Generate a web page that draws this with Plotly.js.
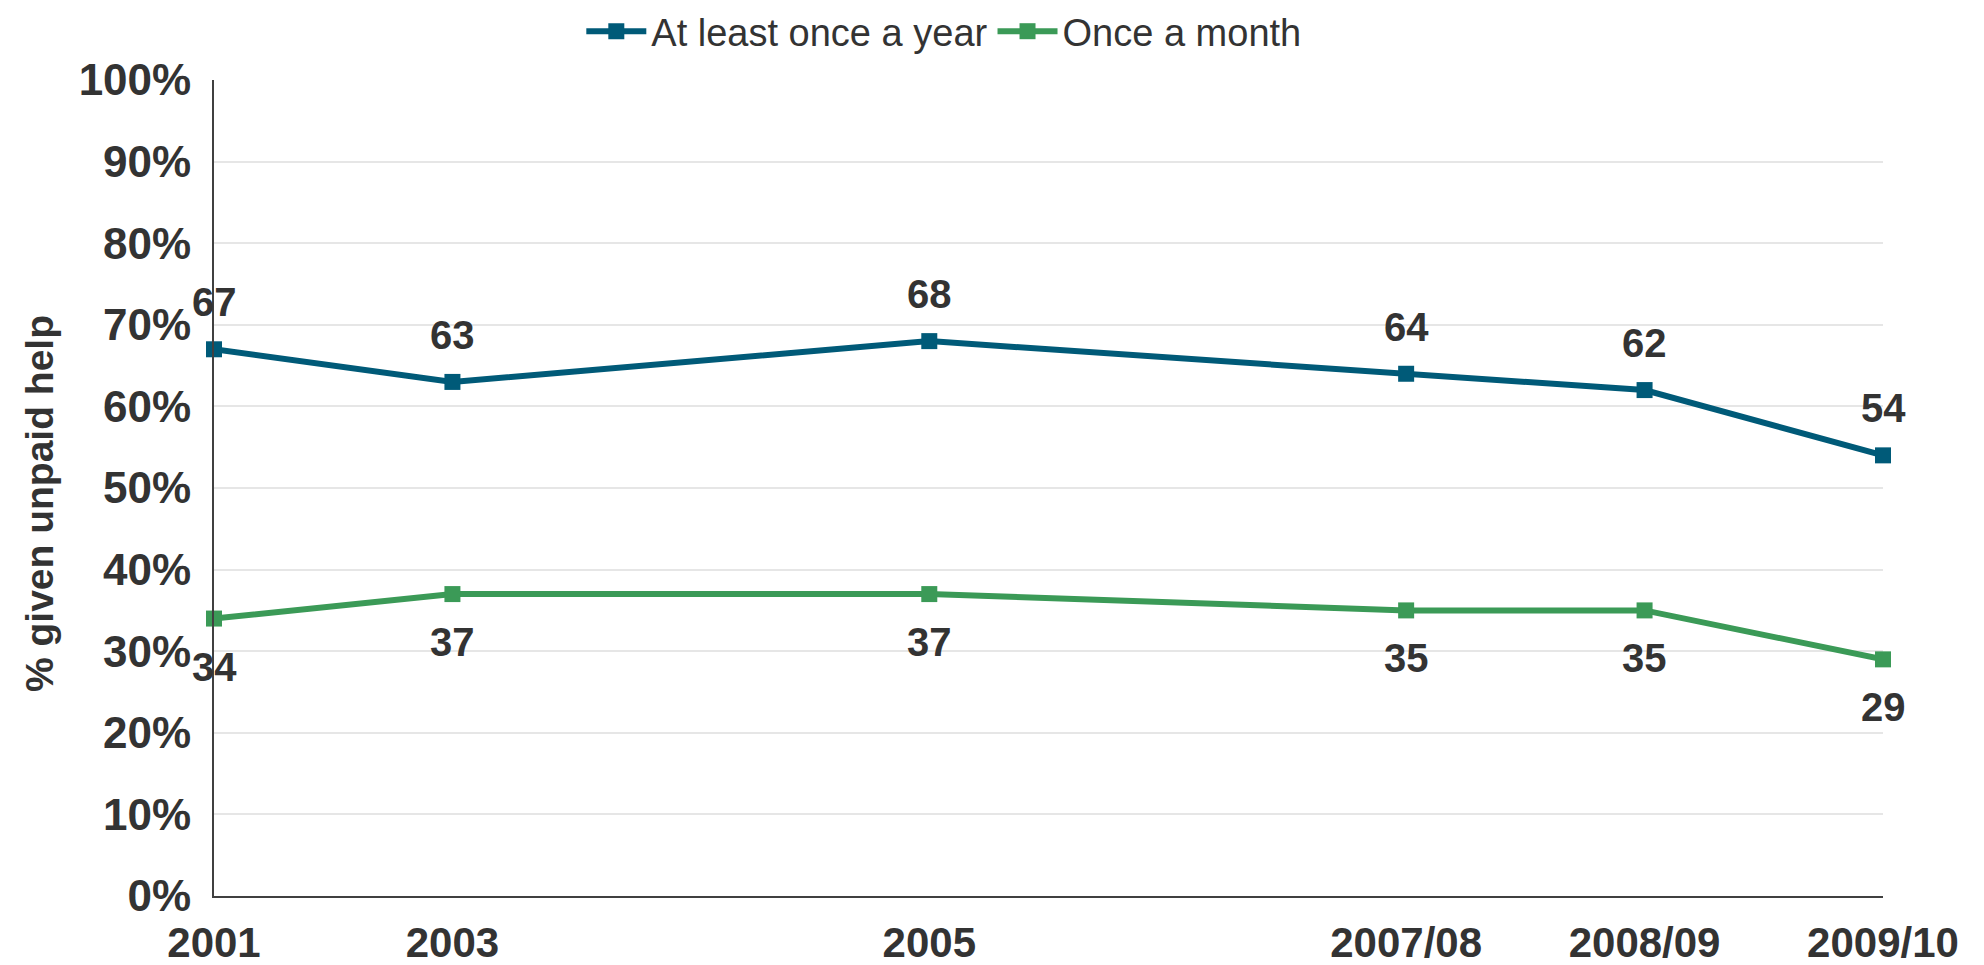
<!DOCTYPE html>
<html>
<head>
<meta charset="utf-8">
<script src="https://cdn.plot.ly/plotly-3.0.1.min.js"></script>
<style>
  html, body { margin: 0; padding: 0; background: #ffffff; }
  #chart { width: 1984px; height: 965px; }
</style>
</head>
<body>
<div id="chart"></div>
<script>
// Survey waves (x positions follow the original time-scaled axis)
const surveyLabels = ['2001', '2003', '2005', '2007/08', '2008/09', '2009/10'];
const surveyX = [0, 1, 3, 5, 6, 7];

// % given unpaid help
const atLeastOnceAYear = [67, 63, 68, 64, 62, 54];
const onceAMonth = [34, 37, 37, 35, 35, 29];

const yTickVals = [0, 10, 20, 30, 40, 50, 60, 70, 80, 90, 100];
const yTickText = yTickVals.map(v => v + '%');

const FONT = 'Liberation Sans, Arial, Helvetica, sans-serif';
const TXT = '#333333';
const BLUE = '#005a78';
const GREEN = '#3b9a57';

const traces = [
  {
    name: 'At least once a year',
    x: surveyX, y: atLeastOnceAYear,
    type: 'scatter', mode: 'lines+markers',
    line: { color: BLUE, width: 6 },
    marker: { symbol: 'square', size: 16, color: BLUE },
    cliponaxis: false,
    hoverinfo: 'skip'
  },
  {
    name: 'Once a month',
    x: surveyX, y: onceAMonth,
    type: 'scatter', mode: 'lines+markers',
    line: { color: GREEN, width: 6 },
    marker: { symbol: 'square', size: 16, color: GREEN },
    cliponaxis: false,
    hoverinfo: 'skip'
  }
];

const annotations = [];
surveyX.forEach((xv, i) => {
  annotations.push({
    x: xv, y: atLeastOnceAYear[i], xref: 'x', yref: 'y',
    text: String(atLeastOnceAYear[i]), showarrow: false,
    yshift: 47, font: { family: FONT, size: 40, color: TXT, weight: 'bold' }
  });
  annotations.push({
    x: xv, y: onceAMonth[i], xref: 'x', yref: 'y',
    text: String(onceAMonth[i]), showarrow: false,
    yshift: -48, font: { family: FONT, size: 40, color: TXT, weight: 'bold' }
  });
});

// Y axis title placed as a rotated annotation
annotations.push({
  xref: 'paper', yref: 'paper', x: 0, y: 0.5,
  xanchor: 'center', yanchor: 'middle',
  xshift: -175, yshift: -16, textangle: -90,
  text: '% given unpaid help', showarrow: false,
  font: { family: FONT, size: 39, color: TXT, weight: 'bold' }
});

const layout = {
  width: 1984, height: 965,
  paper_bgcolor: '#ffffff', plot_bgcolor: '#ffffff',
  margin: { l: 214, r: 101, t: 80, b: 69, pad: 0 },
  font: { family: FONT, color: TXT },
  showlegend: true,
  legend: {
    orientation: 'h',
    x: 0.293, xanchor: 'left', xref: 'container',
    y: 1, yanchor: 'top', yref: 'container',
    font: { family: FONT, size: 38, color: TXT },
    bgcolor: 'rgba(0,0,0,0)',
    traceorder: 'normal',
    itemwidth: 60
  },
  xaxis: {
    range: [0, 7],
    tickmode: 'array', tickvals: surveyX, ticktext: surveyLabels,
    tickfont: { family: FONT, size: 42, color: TXT, weight: 'bold' },
    ticks: '', ticklabelstandoff: 9,
    showgrid: false, zeroline: false,
    showline: true, linecolor: '#404040', linewidth: 2,
    fixedrange: true
  },
  yaxis: {
    range: [0, 100],
    tickmode: 'array', tickvals: yTickVals, ticktext: yTickText,
    tickfont: { family: FONT, size: 44, color: TXT, weight: 'bold' },
    ticks: '', ticklabelstandoff: 12,
    showgrid: true, gridcolor: '#e6e6e6', gridwidth: 2,
    zeroline: false,
    showline: true, linecolor: '#404040', linewidth: 2,
    automargin: false,
    fixedrange: true
  },
  annotations: annotations
};

Plotly.newPlot('chart', traces, layout, { displayModeBar: false, staticPlot: true });
</script>
</body>
</html>
